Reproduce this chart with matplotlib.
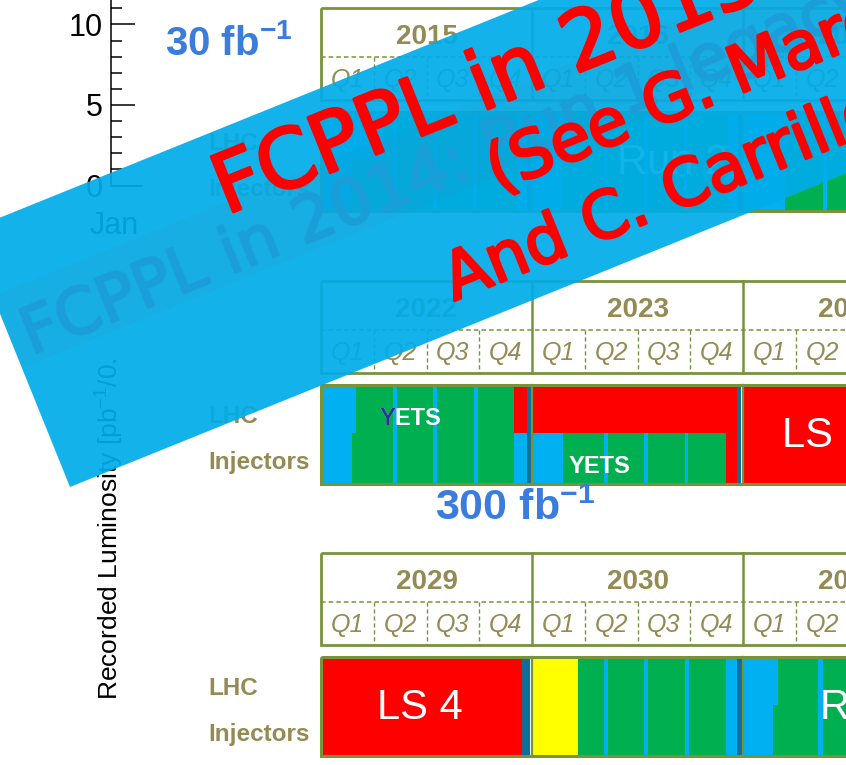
import numpy as np
import matplotlib
matplotlib.use("Agg")
import matplotlib.pyplot as plt
from matplotlib.patches import Rectangle, Polygon
from matplotlib import patheffects as pe
from matplotlib import font_manager as fm

# ---------------- data ----------------
lum_major = [0, 5, 10]
lum_minor = list(range(0, 12))
lum_xlabels = ["Jan"]
lum_ylabel = "Recorded Luminosity [pb$^{-1}$/0."

block_years = [[2015, 2016, 2017], [2022, 2023, 2024], [2029, 2030, 2031]]
quarters = ["Q1", "Q2", "Q3", "Q4"]
row_labels = ["LHC", "Injectors"]
lumi_targets = ["30 fb", "300 fb"]

# schedule segments: (start, end, kind, part)  part F=full bar, T=LHC half, B=injector half
seg_run2 = [
    (2015.00, 2015.30, "stop", "T"), (2015.30, 2015.93, "run", "T"), (2015.93, 2016.00, "stop", "T"),
    (2015.00, 2015.14, "stop", "B"), (2015.14, 2015.93, "run", "B"), (2015.93, 2016.00, "stop", "B"),
    (2016.00, 2016.20, "stop", "T"), (2016.20, 2016.93, "run", "T"), (2016.93, 2017.00, "stop", "T"),
    (2016.00, 2016.14, "stop", "B"), (2016.14, 2016.93, "run", "B"), (2016.93, 2017.00, "stop", "B"),
    (2017.00, 2017.20, "stop", "T"), (2017.20, 2017.70, "run", "T"),
    (2017.00, 2017.20, "stop", "B"), (2017.20, 2017.70, "run", "B"),
    (2015.34, 2015.36, "stop", "F"), (2015.53, 2015.55, "stop", "F"), (2015.72, 2015.74, "stop", "F"),
    (2016.34, 2016.36, "stop", "F"), (2016.53, 2016.55, "stop", "F"), (2016.72, 2016.74, "stop", "F"),
    (2017.38, 2017.40, "stop", "F"),
    (2015.976, 2015.995, "tech", "F"), (2016.976, 2016.995, "tech", "F"),
]
seg_run3 = [
    (2022.000, 2022.166, "stop", "T"), (2022.166, 2022.915, "run", "T"),
    (2022.915, 2022.976, "ls", "T"), (2022.976, 2022.995, "tech", "T"),
    (2023.000, 2023.972, "ls", "T"), (2023.972, 2023.990, "tech", "T"),
    (2024.000, 2024.600, "ls", "T"),
    (2022.000, 2022.147, "stop", "B"), (2022.147, 2022.915, "run", "B"),
    (2022.915, 2022.976, "stop", "B"), (2022.976, 2022.995, "tech", "B"),
    (2023.000, 2023.147, "stop", "B"), (2023.147, 2023.919, "run", "B"),
    (2023.919, 2023.972, "ls", "B"), (2023.972, 2023.990, "tech", "B"),
    (2024.000, 2024.600, "ls", "B"),
    (2022.343, 2022.362, "stop", "F"), (2022.530, 2022.550, "stop", "F"), (2022.725, 2022.744, "stop", "F"),
    (2023.340, 2023.359, "stop", "B"), (2023.530, 2023.549, "stop", "B"), (2023.725, 2023.741, "stop", "B"),
]
seg_run4 = [
    (2029.000, 2029.953, "ls", "F"), (2029.953, 2029.990, "tech", "F"),
    (2030.000, 2030.218, "comm", "F"), (2030.218, 2030.919, "run", "F"),
    (2030.919, 2030.972, "stop", "F"), (2030.972, 2030.995, "tech", "F"),
    (2031.000, 2031.166, "stop", "T"), (2031.166, 2031.600, "run", "T"),
    (2031.000, 2031.142, "stop", "B"), (2031.142, 2031.600, "run", "B"),
    (2030.340, 2030.359, "stop", "F"), (2030.530, 2030.549, "stop", "F"), (2030.725, 2030.744, "stop", "F"),
    (2031.355, 2031.378, "stop", "F"),
]
block_segments = [seg_run2, seg_run3, seg_run4]

# bar texts: (text, x-year, anchor, colour, row)
bar_texts = [
    [("Run 2", 2016.403, "left", "white", "mid")],
    [("YETS", 2022.422, "center", "white", "T"), ("YETS", 2023.318, "center", "white", "B"),
     ("LS 3", 2024.185, "left", "white", "mid")],
    [("LS 4", 2029.469, "center", "white", "mid"), ("Run 5", 2031.365, "left", "white", "mid")],
]

banner_old = "FCPPL in 2014: Run 1 legacy"
banner_new = ["FCPPL in 2015", "(See G. Marchiori", "And C. Carrillo)"]

# ---------------- style ----------------
names = {f.name for f in fm.fontManager.ttflist}
SANS = "Liberation Sans" if "Liberation Sans" in names else "DejaVu Sans"
NARROW = "Liberation Sans Narrow" if "Liberation Sans Narrow" in names else SANS
plt.rcParams["mathtext.fontset"] = "custom"
plt.rcParams["mathtext.rm"] = SANS
plt.rcParams["mathtext.bf"] = SANS + ":bold"
plt.rcParams["mathtext.it"] = SANS + ":italic"

COL = {"run": "#00b050", "stop": "#00b0f0", "ls": "#ff0000", "comm": "#ffff00", "tech": "#0f6f98"}
OLIVE = "#77933c"
TAN = "#948a54"
BLUE_TXT = "#3b7ddd"

W_PX, H_PX = 846, 765
PX_PER_YEAR = 211.0
X0 = 321.0
fig = plt.figure(figsize=(W_PX / 100, H_PX / 100), dpi=100)


def rect_px(x0, y0, x1, y1):
    return [x0 / W_PX, 1 - y1 / H_PX, (x1 - x0) / W_PX, (y1 - y0) / H_PX]


# ---------------- luminosity axis (partly hidden plot) ----------------
ax_l = fig.add_axes(rect_px(111, 0, 142, 185.5))
ax_l.set_zorder(0)
ax_l.patch.set_visible(False)
ax_l.set_ylim(0, 11.52)
ax_l.set_xlim(0, 31)
ax_l.set_yticks(lum_major)
ax_l.set_yticks(lum_minor, minor=True)
ax_l.set_yticklabels([str(v) for v in lum_major], fontsize=22, family=SANS)
ax_l.set_xticks([3.5])
ax_l.set_xticklabels(lum_xlabels, fontsize=22, family=SANS)
ax_l.tick_params(axis="y", which="major", direction="in", length=17.5, width=1.1, pad=6)
ax_l.tick_params(axis="y", which="minor", direction="in", length=8, width=1.1)
ax_l.tick_params(axis="x", length=0, pad=18)
for s in ["top", "right"]:
    ax_l.spines[s].set_visible(False)
for s in ["left", "bottom"]:
    ax_l.spines[s].set_linewidth(1.1)

# ---------------- schedule blocks ----------------
block_tops = [8, 281, 553]
for years, top, segs, btexts in zip(block_years, block_tops, block_segments, bar_texts):
    y0 = years[0]
    ax = fig.add_axes(rect_px(X0 - 5, top - 4, W_PX, top + 208))
    ax.set_zorder(1)
    ax.set_xlim(y0 - 5 / PX_PER_YEAR, y0 + (W_PX - X0) / PX_PER_YEAR)
    ax.set_ylim(208, -4)
    ax.axis("off")
    span = len(years)
    # header
    ax.add_patch(Rectangle((y0, 0), span + 0.5, 92, fill=False, ec=OLIVE, lw=2.0))
    ax.plot([y0, y0 + span + 0.5], [49, 49], color=OLIVE, lw=1.1, ls=(0, (3, 2)))
    for k, yr in enumerate(years):
        if k > 0:
            ax.plot([yr, yr], [0, 92], color=OLIVE, lw=1.8)
        for q in range(1, 4):
            ax.plot([yr + q / 4] * 2, [49, 92], color=OLIVE, lw=1.0, ls=(0, (3, 2)))
        ax.text(yr + 0.5, 36, str(yr), ha="center", va="baseline", fontsize=20,
                fontweight="bold", family=NARROW, color=TAN)
        for q, ql in enumerate(quarters):
            ax.text(yr + (q + 0.5) / 4, 79, ql, ha="center", va="baseline", fontsize=18,
                    style="italic", family=NARROW, color=TAN)
    # bar
    bt, bm, bb = 104, 152, 203
    for s0, s1, kind, part in segs:
        ya, yb = {"F": (bt, bb), "T": (bt, bm), "B": (bm, bb)}[part]
        ax.add_patch(Rectangle((s0, ya), s1 - s0, yb - ya, fc=COL[kind], ec="none", lw=0))
    for k in range(1, span):
        ax.plot([y0 + k] * 2, [bt, bb], color=OLIVE, lw=1.6)
    ax.add_patch(Rectangle((y0, bt), span + 0.5, bb - bt, fill=False, ec=OLIVE, lw=2.2))
    for txt, xy, ha, c, row in btexts:
        if row == "mid":
            ax.text(xy, 166, txt, ha=ha, va="baseline", fontsize=30, family=SANS, color=c)
        else:
            yb_ = 144 if row == "T" else 192
            ax.text(xy, yb_, txt, ha=ha, va="baseline", fontsize=17, fontweight="bold",
                    family=SANS, color=c)
            if row == "T":
                # first letter in navy (overlapping label in the original)
                ax.text(xy - 0.146, yb_, txt[0], ha="left", va="baseline", fontsize=17,
                        fontweight="bold", family=SANS, color="#1f3c88")

# ---------------- overlay (labels + banner) ----------------
ax_o = fig.add_axes([0, 0, 1, 1])
ax_o.set_zorder(3)
ax_o.set_xlim(0, W_PX)
ax_o.set_ylim(H_PX, 0)
ax_o.axis("off")
ax_o.patch.set_visible(False)

ax_o.text(110, 700, lum_ylabel, rotation=90, ha="center", va="bottom", fontsize=19,
          family=SANS, color="black")

for top in block_tops:
    ax_o.text(208, top + 104 + 38, row_labels[0], ha="left", va="baseline", fontsize=17.5,
              fontweight="bold", family=NARROW, color=TAN)
    ax_o.text(208, top + 104 + 84, row_labels[1], ha="left", va="baseline", fontsize=17.5,
              fontweight="bold", family=NARROW, color=TAN)

ax_o.text(165, 55, lumi_targets[0] + r"$^{\mathbf{-1}}$", ha="left", va="baseline",
          fontsize=29, fontweight="bold", family=SANS, color=BLUE_TXT)
ax_o.text(435, 520, lumi_targets[1] + r"$^{\mathbf{-1}}$", ha="left", va="baseline",
          fontsize=31, fontweight="bold", family=SANS, color=BLUE_TXT)

# banner
ang = np.deg2rad(22)
u = np.array([np.cos(ang), -np.sin(ang)])
v = np.array([np.sin(ang), np.cos(ang)])
BL = np.array([70.0, 487.0])
BW, BLEN = 276.0, 1400.0
band = [BL, BL + BLEN * u, BL + BLEN * u - BW * v, BL - BW * v]
ax_o.add_patch(Polygon(band, closed=True, fc="#00acea", ec="none", alpha=0.92, zorder=10))
stripe = [BL - 128 * v, BL - 128 * v + BLEN * u, BL - 206 * v + BLEN * u, BL - 206 * v]
ax_o.add_patch(Polygon(stripe, closed=True, fc="#3c8aa8", ec="none", alpha=0.09, zorder=11))

ax_o.text(31, 355, banner_old, rotation=22, rotation_mode="anchor", ha="left", va="baseline",
          fontsize=46, family="DejaVu Sans", color="#1c9ed8", alpha=0.75, zorder=12,
          path_effects=[pe.Stroke(linewidth=2.0, foreground="#1c9ed8"), pe.Normal()])

red_anchor = [(226, 215), (497, 192), (454, 301)]
red_size = [59, 47, 47]
for txt, (xa, ya), fs in zip(banner_new, red_anchor, red_size):
    ax_o.text(xa, ya, txt, rotation=22, rotation_mode="anchor", ha="left", va="baseline",
              fontsize=fs, family="DejaVu Sans", color="#ff0000", zorder=13,
              path_effects=[pe.Stroke(linewidth=2.0, foreground="#ff0000", joinstyle="round"),
                            pe.Normal()])

fig.savefig("out.png", dpi=100)
